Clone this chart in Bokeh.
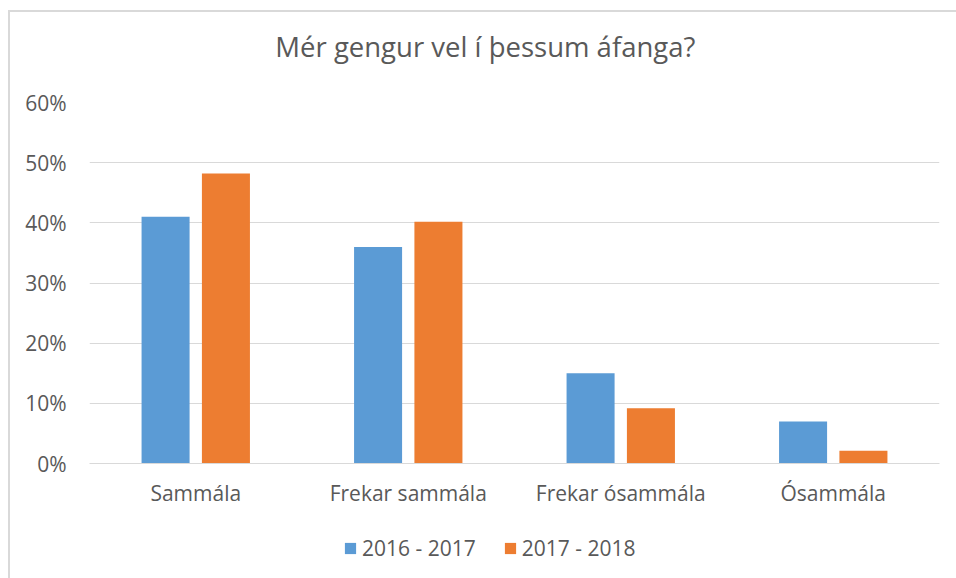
from bokeh.plotting import figure
from bokeh.layouts import column
from bokeh.models import (ColumnDataSource, FactorRange, Range1d, NumeralTickFormatter,
                          Legend, LegendItem, Label)
from bokeh.transform import dodge
from bokeh.embed import file_html
from bokeh.resources import INLINE

title_text = "Mér gengur vel í þessum áfanga?"
categories = ["Sammála", "Frekar sammála", "Frekar ósammála", "Ósammála"]
series_names = ["2016 - 2017", "2017 - 2018"]
values_2016 = [0.41, 0.36, 0.15, 0.07]
values_2017 = [0.482, 0.402, 0.092, 0.021]
y_ticks = [0, 0.1, 0.2, 0.3, 0.4, 0.5, 0.6]
colors = ["#5B9BD5", "#ED7D31"]

FONT = "Open Sans"
TXT = "#595959"
W = 956

src = ColumnDataSource(dict(cat=categories, a=values_2016, b=values_2017))

# title strip
pt = figure(width=W, height=80, output_backend="svg", toolbar_location=None,
            x_range=Range1d(0, W), y_range=Range1d(0, 80),
            min_border=0, x_axis_location=None, y_axis_location=None)
pt.background_fill_color = None
pt.border_fill_color = None
pt.outline_line_color = None
pt.grid.grid_line_color = None
pt.add_layout(Label(x=209, y=34, text=title_text, text_font=FONT, text_font_size="27.5px",
                    text_color=TXT, text_align="left", text_baseline="alphabetic"))

# main chart
p = figure(x_range=FactorRange(*categories), y_range=Range1d(0, 0.6),
           width=W, height=445, output_backend="svg", toolbar_location=None,
           min_border_left=89, min_border_right=17, min_border_top=22, min_border_bottom=62)
p.background_fill_color = None
p.border_fill_color = None

r1 = p.vbar(x=dodge("cat", -0.142, range=p.x_range), top="a", width=0.226, source=src,
            fill_color=colors[0], line_color=None)
r2 = p.vbar(x=dodge("cat", 0.142, range=p.x_range), top="b", width=0.226, source=src,
            fill_color=colors[1], line_color=None)

p.outline_line_color = None
p.xgrid.grid_line_color = None
p.ygrid.grid_line_color = "#D9D9D9"
p.ygrid.grid_line_width = 1

p.yaxis.ticker = y_ticks
p.yaxis.formatter = NumeralTickFormatter(format="0%")
for ax in (p.xaxis[0], p.yaxis[0]):
    ax.axis_line_color = None
    ax.major_tick_line_color = None
    ax.minor_tick_line_color = None
    ax.major_tick_out = 0
    ax.major_tick_in = 0
    ax.major_label_text_font = FONT
    ax.major_label_text_font_size = "21px"
    ax.major_label_text_color = TXT
p.yaxis.major_label_standoff = 23
p.xaxis.major_label_standoff = 15
p.xaxis.axis_line_color = "#D9D9D9"

# legend strip (bars fall outside its range; only the legend shows)
p2 = figure(width=W, height=53, output_backend="svg", toolbar_location=None,
            x_range=FactorRange(*categories), y_range=Range1d(1, 2),
            min_border=0, x_axis_location=None, y_axis_location=None)
p2.background_fill_color = None
p2.border_fill_color = None
p2.outline_line_color = None
p2.grid.grid_line_color = None
d1 = p2.vbar(x="cat", top="a", width=0.2, source=src, fill_color=colors[0], line_color=None)
d2 = p2.vbar(x="cat", top="b", width=0.2, source=src, fill_color=colors[1], line_color=None)

legend = Legend(items=[LegendItem(label=series_names[0], renderers=[d1]),
                       LegendItem(label=series_names[1], renderers=[d2])],
                orientation="horizontal", location=(254, 16),
                glyph_width=14, glyph_height=14, label_standoff=5, spacing=27,
                padding=0, margin=0, border_line_color=None, background_fill_alpha=0,
                label_text_font=FONT, label_text_font_size="21px", label_text_color=TXT)
p2.add_layout(legend, "center")

layout = column(pt, p, p2, spacing=0)
layout.styles = {"background": "linear-gradient(#d9d9d9,#d9d9d9) 8px 10px / 100% 2px no-repeat, "
                               "linear-gradient(#d9d9d9,#d9d9d9) 8px 10px / 2px 100% no-repeat, white"}
open("out.html", "w").write(file_html(layout, INLINE))
